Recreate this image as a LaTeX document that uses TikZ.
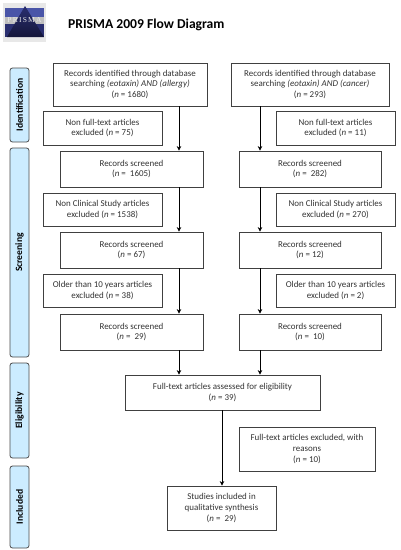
\documentclass[tikz,border=0pt]{standalone}
\usepackage{fontspec}
\setmainfont{Carlito}
\newfontfamily\logofont{Liberation Serif}
\usetikzlibrary{arrows.meta,shadings}
\definecolor{side}{HTML}{CCECFF}
\definecolor{txt}{HTML}{333333}
\definecolor{logoblue}{HTML}{4A55A8}
\definecolor{logodeep}{HTML}{2A2F70}
\definecolor{logonavy}{HTML}{14163A}
\tikzset{
 x=1pt,y=-1pt,
 bx/.style={draw=black!75,line width=0.8pt,fill=white,inner sep=0pt,align=center,text=txt,font=\fontsize{8.95}{10.9}\selectfont},
 sidebar/.style={draw=black!70,line width=0.8pt,fill=side,rounded corners=2.5pt,inner sep=0pt,minimum width=19pt,anchor=center},
 arr/.style={draw=black,line width=0.8pt,-{Stealth[length=4.5pt,width=4.5pt]}},
}
\newcommand{\bxn}[7][]{\node[bx,minimum width=#5pt-#3pt,minimum height=#6pt-#4pt,#1] (#2) at ({(#3+#5)/2},{(#4+#6)/2}) {#7};}
\newcommand{\nn}[1]{(\textit{n} = #1)}
\begin{document}
\begin{tikzpicture}
\useasboundingbox (0,0) rectangle (400,550);
\fill[white] (0,0) rectangle (400,550);
% logo
\fill[black!9] (3,3) rectangle (46,42);
\fill[logoblue] (5,8) rectangle (44,17);
\fill[black!25] (5,17) rectangle (44,24);
\fill[logodeep] (5,24) rectangle (44,37);
\shade[top color=logodeep,bottom color=logonavy] (25,6) -- (44,37) -- (7,37) -- cycle;
\node[font=\logofont\fontsize{7.5}{8}\selectfont,text=white!92!black,inner sep=0pt] (logotext) at (24.5,20.5) {P\,R\,I\,S\,M\,A};
\node[anchor=west,font=\bfseries\fontsize{13.6}{15}\selectfont,inner sep=0pt] (title) at (68,24.5) {PRISMA 2009 Flow Diagram};
% sidebars
\foreach \n/\t/\b/\l in {sa/68/142/Identification,sb/148/357/Screening,sc/363/458/Eligibility,sd/466/548/Included}{
 \node[sidebar,minimum height={(\b-\t)*1pt}] (\n) at (19.5,{(\t+\b)/2}) {\rotatebox{90}{\bfseries\fontsize{9.6}{11}\selectfont\l}};
}
% boxes
\bxn{a1}{53}{63}{207}{106}{Records identified through database\\searching \textit{(eotaxin) AND (allergy)}\\\nn{1680}}
\bxn{b1}{231}{63}{389}{106}{Records identified through database\\searching \textit{(eotaxin) AND (cancer)}\\\nn{293}}
\bxn{a2}{43}{111}{162}{145}{Non full-text articles\\excluded \nn{75}}
\bxn{b2}{276}{111}{395}{145}{Non full-text articles\\excluded \nn{11}}
\bxn{a3}{60}{151}{203}{187}{Records screened\\(\textit{n} =~ 1605)}
\bxn{b3}{239}{151}{381}{187}{Records screened\\(\textit{n} =~ 282)}
\bxn{a4}{43}{193}{162}{226}{Non Clinical Study articles\\excluded \nn{1538}}
\bxn{b4}{276}{193}{395}{226}{Non Clinical Study articles\\excluded \nn{270}}
\bxn{a5}{60}{232}{203}{268}{Records screened\\\nn{67}}
\bxn{b5}{239}{232}{381}{268}{Records screened\\\nn{12}}
\bxn{a6}{43}{274}{162}{307}{Older than 10 years articles\\excluded \nn{38}}
\bxn{b6}{276}{274}{395}{307}{Older than 10 years articles\\excluded \nn{2}}
\bxn{a7}{60}{314}{203}{350}{Records screened\\(\textit{n} =~ 29)}
\bxn{b7}{239}{314}{381}{350}{Records screened\\(\textit{n} =~ 10)}
\bxn{f}{125}{375}{320}{410}{Full-text articles assessed for eligibility\\\nn{39}}
\bxn{x}{239}{427}{375}{471}{Full-text articles excluded, with\\reasons\\\nn{10}}
\bxn{s}{167}{486}{276}{530}{Studies included in\\qualitative synthesis\\(\textit{n} =~ 29)}
% arrow lanes
\coordinate (lx) at (179,0);
\coordinate (rx) at (260,0);
\coordinate (mx) at (222,0);
\draw[arr] (a1.south -| lx) -- (a3.north -| lx);
\draw[arr] (a3.south -| lx) -- (a5.north -| lx);
\draw[arr] (a5.south -| lx) -- (a7.north -| lx);
\draw[arr] (a7.south -| lx) -- (f.north -| lx);
\draw[arr] (b1.south -| rx) -- (b3.north -| rx);
\draw[arr] (b3.south -| rx) -- (b5.north -| rx);
\draw[arr] (b5.south -| rx) -- (b7.north -| rx);
\draw[arr] (b7.south -| rx) -- (f.north -| rx);
\draw[arr] (f.south -| mx) -- (s.north -| mx);
\end{tikzpicture}
\end{document}
